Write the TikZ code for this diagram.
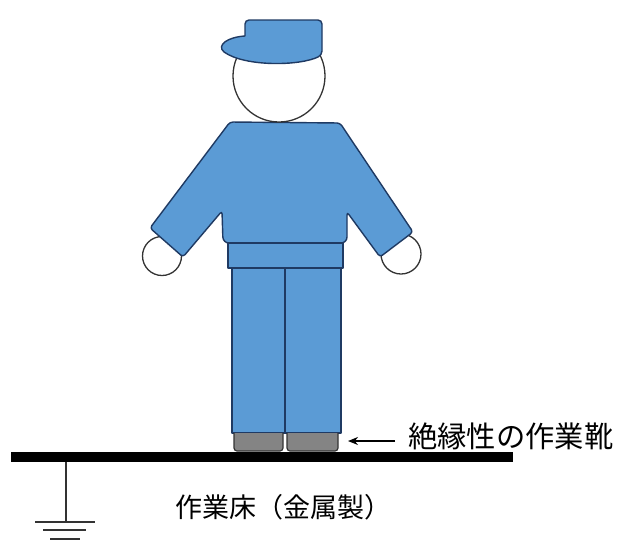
\documentclass[tikz,border=0pt]{standalone}
\usepackage{fontspec}
\newfontfamily\jp{Noto Sans CJK JP}
\usetikzlibrary{arrows.meta}
\definecolor{suit}{HTML}{5B9BD5}
\definecolor{suitline}{HTML}{1F3A63}
\definecolor{soleg}{HTML}{848484}
\definecolor{skinline}{HTML}{333333}
\tikzset{
  cloth/.style={fill=suit, draw=suitline, line width=1.4pt, line join=round},
  skin/.style={fill=white, draw=skinline, line width=1.3pt},
  sole/.style={fill=soleg, draw=skinline, line width=1.2pt},
  earth/.style={draw=skinline, line width=1.8pt},
  label/.style={inner sep=0pt, anchor=west, text=black},
}
\begin{document}
\begin{tikzpicture}[x=1pt,y=-1pt]
\useasboundingbox (0,0) rectangle (617,544);

% hands, partly hidden under the sleeves
\draw[skin] (162,256) circle[radius=19.5];
\draw[skin] (401,254) circle[radius=20];

% jacket with both sleeves
\draw[cloth, rounded corners=3pt]
  (230,122) -- (340,123) -- (413,232) -- (380,257) -- (347,212)
  [rounded corners=6pt] -- (347,243) -- (223,243) [rounded corners=3pt] -- (222,211)
  -- (183,257) -- (150,228) -- cycle;

% waistband and trouser legs
\draw[cloth] (228,243) rectangle (343,268);
\draw[cloth] (232,268) rectangle (285,433);
\draw[cloth] (285,268) rectangle (341,433);

% insulated boots
\draw[sole, rounded corners=3pt] (234,433) -- (234,451) -- (283,451) -- (283,433);
\draw[sole, rounded corners=3pt] (287,433) -- (287,451) -- (338,451) -- (338,433);

% head and cap
\draw[skin] (279,76) circle[radius=46];
\draw[cloth]
  (245,36) [rounded corners=4pt] -- (245,20) -- (322,20) -- (322,55) [sharp corners]
  .. controls (300,66) and (245,67) .. (224,52)
  .. controls (216,45) and (228,37) .. (245,36) -- cycle;

% metal work floor
\fill[black] (11,452) rectangle (513,462);
\coordinate (floorjoint) at (66,462);
\coordinate (earthtop) at (66,522);
\draw[earth] (floorjoint) -- (earthtop);
\draw[earth] (35,522) -- (95,522);
\draw[earth] (43,530) -- (86,530);
\draw[earth] (50,539) -- (80,539);

% labels
\node[label] (bootlabel) at (408,436) {\jp\fontsize{29.3}{31}\selectfont 絶縁性の作業靴};
\node[label] (floorlabel) at (175,507) {\jp\fontsize{27}{29}\selectfont 作業床（金属製）};
\coordinate (arrowtail) at (395,441);
\coordinate (arrowtip) at (348,441);
\draw[line width=1.5pt, -{Stealth[length=10pt,width=8pt]}] (arrowtail) -- (arrowtip);
\end{tikzpicture}
\end{document}
